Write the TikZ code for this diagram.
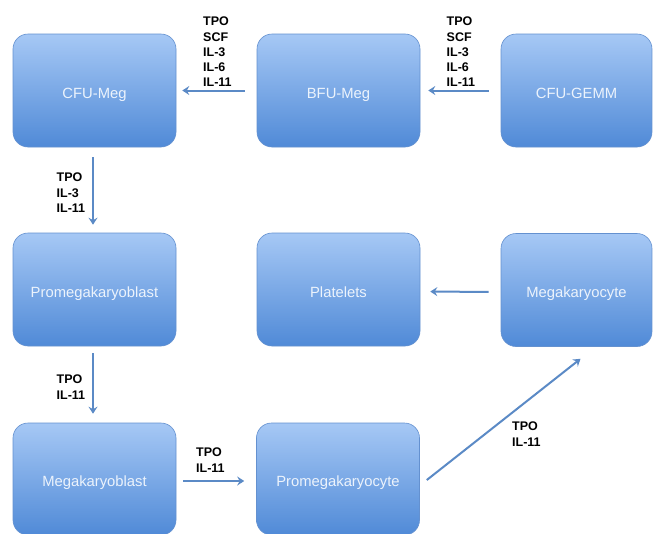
\documentclass[tikz,border=0pt]{standalone}
\usepackage{fontspec}
\setmainfont{Liberation Sans}
\usetikzlibrary{arrows.meta}
\definecolor{boxtop}{RGB}{166,200,245}
\definecolor{boxbot}{RGB}{80,138,215}
\definecolor{boxrim}{RGB}{100,145,208}
\definecolor{boxtext}{RGB}{236,243,252}
\definecolor{arrowblue}{RGB}{91,138,198}
\begin{document}
\begin{tikzpicture}[x=1pt,y=-1pt,
	cell/.style={rectangle, rounded corners=15pt, draw=boxrim, line width=0.6pt,
		top color=boxtop, bottom color=boxbot, minimum width=163pt, minimum height=113pt,
		text=boxtext, font=\fontsize{14.8}{17}\selectfont, inner sep=0pt,
		text height=15.4pt, text depth=0pt},
	narrow/.style={minimum width=151pt},
	factors/.style={anchor=north west, align=left, inner sep=0pt,
		font=\fontsize{12.5}{15.2}\selectfont\bfseries},
	arr/.style={draw=arrowblue, line width=2pt, -{Stealth[length=7pt,width=9pt,inset=2.5pt]}}]
		\clip (0,0) rectangle (655,533);
		\fill[white] (0,0) rectangle (655,533);
		
		% Top row
		\node[cell] (cfumeg) at (94.5,90.5) {CFU-Meg};
		\node[cell] (bfumeg) at (338.5,90.5) {BFU-Meg};
		\node[cell, narrow] (cfugemm) at (576.5,90.5) {CFU-GEMM};
		
		% Middle row
		\node[cell] (promegablast) at (94.5,289.5) {Promegakaryoblast};
		\node[cell] (platelets) at (338.5,289.5) {Platelets};
		\node[cell, narrow] (megacyte) at (576.5,290) {Megakaryocyte};
		
		% Bottom row
		\node[cell, minimum height=112pt] (megablast) at (94.5,479) {Megakaryoblast};
		\node[cell, minimum height=112pt] (promegacyte) at (338,479) {Promegakaryocyte};
		
		% Arrows
		\draw[arr, shorten <=12pt, shorten >=6pt] (bfumeg) -- (cfumeg);
		\draw[arr, shorten <=12pt, shorten >=8pt] (cfugemm) -- (bfumeg);
		\draw[arr, shorten <=10pt, shorten >=8pt] ([xshift=-1.5pt]cfumeg.south) -- ([xshift=-1.5pt]promegablast.north);
		\draw[arr, shorten <=7pt, shorten >=9pt] ([xshift=-1.5pt]promegablast.south) -- ([xshift=-1.5pt]megablast.north);
		\draw[arr, shorten <=7pt, shorten >=12pt] ([yshift=-2pt]megablast.east) -- ([yshift=-2pt]promegacyte.west);
		\draw[arr, shorten <=12pt, shorten >=10pt] ([yshift=-2pt]megacyte.west) -- ([yshift=-2pt]platelets.east);
		\draw[arr] ([xshift=7pt,yshift=-1pt]promegacyte.east) -- ([xshift=4pt,yshift=-12pt]megacyte.south);
		
		% Growth factors
		\node[factors] (f1) at (203,17) {TPO\\SCF\\IL-3\\IL-6\\IL-11};
		\node[factors] (f2) at (446.5,17) {TPO\\SCF\\IL-3\\IL-6\\IL-11};
		\node[factors] (f3) at (56.5,173) {TPO\\IL-3\\IL-11};
		\node[factors] (f4) at (56.5,375) {TPO\\IL-11};
		\node[factors] (f5) at (196,448) {TPO\\IL-11};
		\node[factors] (f6) at (512,422) {TPO\\IL-11};
	\end{tikzpicture}
\end{document}
